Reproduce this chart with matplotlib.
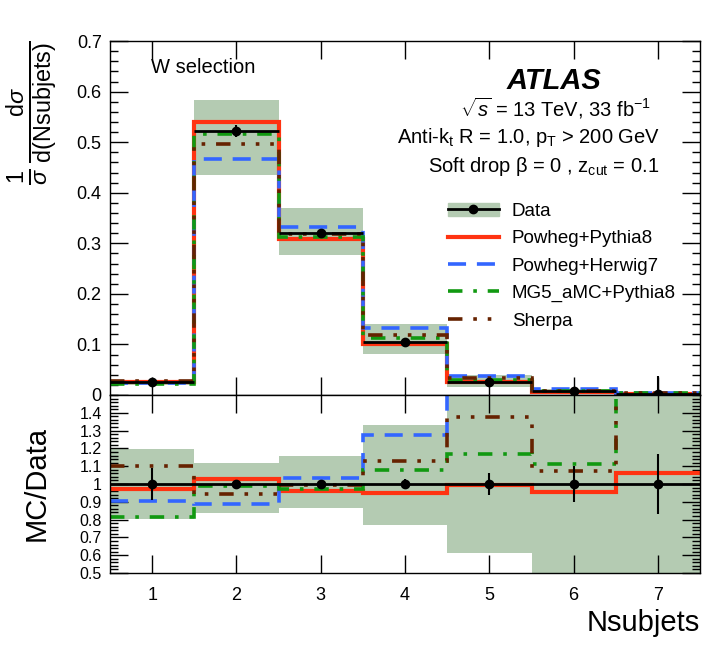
import matplotlib
matplotlib.use('Agg')
from matplotlib import pyplot as plt
from matplotlib.lines import Line2D
from matplotlib.patches import Patch
from matplotlib.ticker import MultipleLocator, FormatStrFormatter
import numpy as np

plt.rcParams['font.family'] = ['Liberation Sans', 'DejaVu Sans']
plt.rcParams['mathtext.fontset'] = 'custom'
plt.rcParams['mathtext.rm'] = 'Liberation Sans'
plt.rcParams['mathtext.it'] = 'Liberation Sans:italic'
plt.rcParams['mathtext.bf'] = 'Liberation Sans:bold'

# bin edges / centres
edges = [0.5, 1.5, 2.5, 3.5, 4.5, 5.5, 6.5, 7.5]
centres = [1, 2, 3, 4, 5, 6, 7]

# normalised cross-section (top panel)
data = [0.025, 0.522, 0.320, 0.105, 0.025, 0.007, 0.002]
data_err = [0.002, 0.012, 0.006, 0.003, 0.002, 0.002, 0.035]
pow_py8 = [0.025, 0.539, 0.308, 0.100, 0.025, 0.0065, 0.0022]
pow_hw7 = [0.023, 0.467, 0.332, 0.133, 0.038, 0.011, 0.004]
mg5_py8 = [0.021, 0.517, 0.312, 0.113, 0.029, 0.008, 0.004]
sherpa = [0.028, 0.496, 0.318, 0.118, 0.034, 0.0075, 0.004]

# MC/Data (bottom panel)
band_lo = [0.803, 0.835, 0.865, 0.767, 0.611, 0.30, 0.30]
band_hi = [1.199, 1.117, 1.157, 1.329, 1.60, 1.80, 1.80]
ratio_err = [0.09, 0.012, 0.012, 0.027, 0.06, 0.10, 0.17]
r_pow_py8 = [0.970, 1.027, 0.963, 0.948, 0.997, 0.954, 1.061]
r_pow_hw7 = [0.903, 0.888, 1.035, 1.274, 1.55, 1.60, 1.80]
r_mg5_py8 = [0.812, 0.990, 0.973, 1.080, 1.171, 1.114, 1.70]
r_sherpa = [1.099, 0.945, 0.995, 1.127, 1.374, 1.072, 1.75]

band_col = '#b4cbb2'
models = [
    ('Powheg+Pythia8', '#ff3311', '-', 3.0),
    ('Powheg+Herwig7', '#3366ff', (0, (5, 3)), 2.6),
    ('MG5_aMC+Pythia8', '#119911', (0, (4, 3, 1, 3)), 2.6),
    ('Sherpa', '#662200', (0, (4, 3, 1, 3, 1, 3, 1, 3)), 2.6),
]
top_vals = [pow_py8, pow_hw7, mg5_py8, sherpa]
rat_vals = [r_pow_py8, r_pow_hw7, r_mg5_py8, r_sherpa]

fig = plt.figure(figsize=(7.24, 6.47), dpi=100)
ax = fig.add_axes([0.152, 0.3895, 0.815, 0.547])
rax = fig.add_axes([0.152, 0.1144, 0.815, 0.2751], sharex=ax)

data_arr = np.array(data)
ax.stairs(data_arr * np.array(band_hi), edges,
          baseline=data_arr * np.array(band_lo), fill=True,
          color=band_col, lw=0, zorder=1)
for (name, col, ls, lw), vals in zip(models, top_vals):
    ax.stairs(vals, edges, baseline=None, color=col, linestyle=ls,
              lw=lw, zorder=3)
ax.hlines(data, edges[:-1], edges[1:], color='black', lw=2, zorder=4)
ax.errorbar(centres, data, yerr=data_err, fmt='o', color='black', ms=6,
            elinewidth=1.5, capsize=0, zorder=5, clip_on=False)

rax.stairs(band_hi, edges, baseline=band_lo, fill=True, color=band_col,
           lw=0, zorder=1)
for (name, col, ls, lw), vals in zip(models, rat_vals):
    rax.stairs(vals, edges, baseline=None, color=col, linestyle=ls,
               lw=lw, zorder=3)
rax.axhline(1.0, color='black', lw=2, zorder=4)
rax.errorbar(centres, [1.0] * 7, yerr=ratio_err, fmt='o', color='black',
             ms=6, elinewidth=1.5, capsize=0, zorder=5)

ax.set_xlim(0.5, 7.5)
ax.set_ylim(0, 0.7)
rax.set_ylim(0.5, 1.5)

for a in (ax, rax):
    a.tick_params(which='both', direction='in', top=True, right=True)
    a.tick_params(axis='x', which='major', length=13, width=1)
    a.tick_params(axis='y', which='major', length=13, width=1)
    a.tick_params(axis='y', which='minor', length=6, width=1)
    a.xaxis.set_major_locator(MultipleLocator(1))
    for s in a.spines.values():
        s.set_linewidth(1)
        s.set_zorder(6)

ax.yaxis.set_major_locator(MultipleLocator(0.1))
ax.yaxis.set_minor_locator(MultipleLocator(0.02))
ax.yaxis.set_major_formatter(FormatStrFormatter('%g'))
ax.tick_params(axis='y', labelsize=13, pad=6)
ax.tick_params(axis='x', labelbottom=False)

rax.yaxis.set_major_locator(MultipleLocator(0.1))
rax.yaxis.set_minor_locator(MultipleLocator(0.02))
rax.set_yticks([0.5, 0.6, 0.7, 0.8, 0.9, 1.0, 1.1, 1.2, 1.3, 1.4])
rax.yaxis.set_major_formatter(FormatStrFormatter('%g'))
rax.tick_params(axis='y', labelsize=11.5, pad=6)
rax.tick_params(axis='x', labelsize=13, pad=10)

ax.set_ylabel(r'$\frac{1}{\sigma}\,\frac{\mathrm{d}\sigma}{\mathrm{d(Nsubjets)}}$',
              fontsize=24, loc='top')
rax.set_ylabel('MC/Data', fontsize=21)
rax.set_xlabel('Nsubjets', fontsize=21, loc='right')
ax.yaxis.set_label_coords(-0.085, 1.0)
rax.yaxis.set_label_coords(-0.1, 0.5)

ax.text(0.07, 0.925, 'W selection', transform=ax.transAxes, fontsize=14.5,
        va='center')
ax.text(0.752, 0.887, 'ATLAS', transform=ax.transAxes, fontsize=21,
        fontweight='bold', fontstyle='italic', ha='center', va='center')
ax.text(0.755, 0.81, r'$\sqrt{s}$ = 13 TeV, 33 fb$^{-1}$',
        transform=ax.transAxes, fontsize=14.5, ha='center', va='center')
ax.text(0.71, 0.727, r'Anti-k$_{\mathrm{t}}$ R = 1.0, p$_{\mathrm{T}}$ > 200 GeV',
        transform=ax.transAxes, fontsize=14.5, ha='center', va='center')
ax.text(0.735, 0.645, 'Soft drop \u03b2 = 0 , z$_{\\mathrm{cut}}$ = 0.1',
        transform=ax.transAxes, fontsize=14.5, ha='center', va='center')

handles = [(Patch(color=band_col),
            Line2D([], [], color='black', lw=2, marker='o', ms=6))]
labels = ['Data']
for name, col, ls, lw in models:
    handles.append(Line2D([], [], color=col, linestyle=ls, lw=lw))
    labels.append(name)
ax.legend(handles, labels, loc='upper left', bbox_to_anchor=(0.56, 0.565),
          frameon=False, fontsize=13.5, handlelength=2.7, handletextpad=0.7,
          labelspacing=0.55, borderaxespad=0)

fig.savefig('out.png', dpi=100)
